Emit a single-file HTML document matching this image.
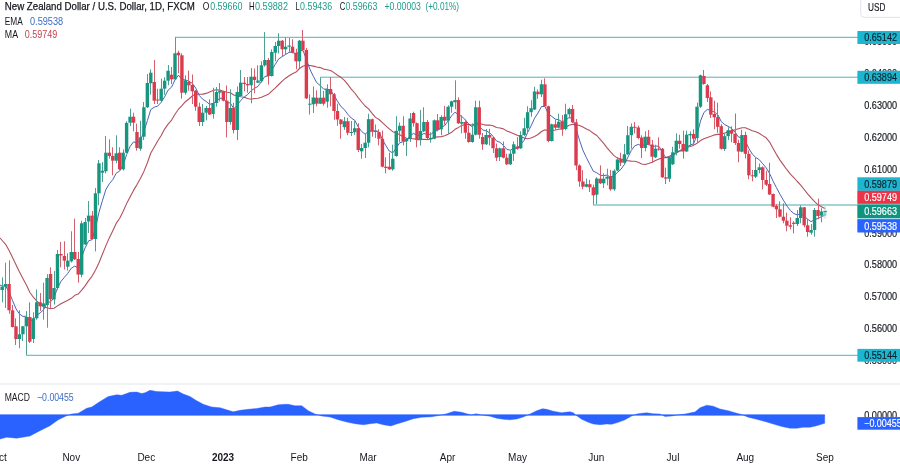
<!DOCTYPE html><html><head><meta charset="utf-8"><title>NZDUSD</title>
<style>html,body{margin:0;padding:0;background:#fff;}body{width:900px;height:465px;overflow:hidden;}svg{display:block;will-change:transform;font-family:"Liberation Sans",sans-serif;}</style>
</head><body>
<svg width="900" height="465" viewBox="0 0 900 465">
<rect x="0" y="0" width="900" height="465" fill="#ffffff"/>
<rect x="0" y="383.5" width="900" height="1" fill="#e4e6ea"/>
<line x1="175" y1="37.3" x2="858" y2="37.3" stroke="#5ab0b5" stroke-width="1.0"/>
<line x1="320.2" y1="77.2" x2="858" y2="77.2" stroke="#5ab0b5" stroke-width="1.0"/>
<rect x="593.3" y="204" width="264.5" height="2" fill="#a6d3d5"/>
<line x1="26.4" y1="355.3" x2="858" y2="355.3" stroke="#5ab0b5" stroke-width="1.0"/>
<path d="M0.0,238.0 L2.2,240.5 L5.6,244.3 L9.1,250.4 L12.5,257.4 L16.0,264.8 L19.4,271.8 L22.9,278.6 L26.4,285.1 L29.8,292.2 L33.3,297.2 L36.7,300.8 L40.2,304.1 L43.6,306.9 L47.1,307.7 L50.6,308.7 L54.0,308.2 L57.5,305.9 L60.9,303.8 L64.4,302.0 L67.8,300.3 L71.3,298.3 L74.8,295.3 L78.2,294.1 L81.7,290.2 L85.1,285.9 L88.6,280.6 L92.0,276.3 L95.5,270.0 L99.0,262.7 L102.4,254.3 L105.9,245.6 L109.3,237.9 L112.8,230.7 L116.2,223.4 L119.7,218.2 L123.2,211.3 L126.6,203.6 L130.1,197.0 L133.5,190.4 L137.0,184.6 L140.4,178.5 L143.9,171.4 L147.4,162.8 L150.8,153.0 L154.3,146.9 L157.7,141.0 L161.2,135.5 L164.6,129.1 L168.1,124.1 L171.6,120.1 L175.0,114.2 L178.5,109.2 L181.9,105.7 L185.4,101.7 L188.8,99.0 L192.3,96.0 L195.8,94.1 L199.2,94.2 L202.7,94.1 L206.1,93.4 L209.6,91.9 L213.0,90.4 L216.5,89.8 L220.0,90.0 L223.4,91.2 L226.9,92.3 L230.3,92.8 L233.8,95.0 L237.2,95.9 L240.7,96.8 L244.1,97.2 L247.6,98.5 L251.1,99.3 L254.5,98.5 L258.0,98.3 L261.4,97.3 L264.9,95.8 L268.3,94.3 L271.8,91.1 L275.3,87.9 L278.7,84.5 L282.2,81.2 L285.6,78.2 L289.1,75.8 L292.5,73.8 L296.0,72.1 L299.5,68.5 L302.9,66.2 L306.4,65.0 L309.8,65.5 L313.3,66.1 L316.7,67.0 L320.2,67.6 L323.7,69.1 L327.1,69.7 L330.6,70.5 L334.0,72.6 L337.5,75.2 L340.9,77.3 L344.4,80.4 L347.9,84.6 L351.3,89.1 L354.8,93.0 L358.2,97.6 L361.7,102.0 L365.1,106.0 L368.6,108.9 L372.1,113.4 L375.5,117.4 L379.0,119.5 L382.4,122.6 L385.9,125.9 L389.3,128.8 L392.8,131.7 L396.3,133.0 L399.7,134.7 L403.2,136.8 L406.6,138.3 L410.1,138.5 L413.5,138.7 L417.0,139.6 L420.5,139.6 L423.9,139.2 L427.4,139.6 L430.8,138.9 L434.3,137.5 L437.7,136.9 L441.2,136.6 L444.7,135.7 L448.1,134.2 L451.6,132.3 L455.0,129.3 L458.5,127.4 L461.9,125.4 L465.4,124.2 L468.9,124.6 L472.3,125.0 L475.8,123.4 L479.2,123.2 L482.7,124.5 L486.1,125.1 L489.6,125.0 L493.1,125.8 L496.5,127.5 L500.0,128.0 L503.4,128.9 L506.9,131.0 L510.3,132.2 L513.8,133.7 L517.3,135.2 L520.7,136.7 L524.2,138.1 L527.6,138.7 L531.1,138.0 L534.5,136.5 L538.0,134.5 L541.5,131.5 L544.9,129.7 L548.4,131.1 L551.8,130.7 L555.3,130.0 L558.7,129.2 L562.2,128.7 L565.7,127.3 L569.1,125.3 L572.6,124.3 L576.0,124.7 L579.5,125.5 L582.9,127.1 L586.4,128.9 L589.8,130.6 L593.3,133.2 L596.8,135.5 L600.2,139.3 L603.7,143.4 L607.1,147.8 L610.6,151.9 L614.0,155.6 L617.5,158.1 L621.0,159.3 L624.4,160.6 L627.9,160.8 L631.3,161.1 L634.8,161.2 L638.2,162.3 L641.7,164.0 L645.2,164.5 L648.6,163.5 L652.1,162.3 L655.5,160.5 L659.0,158.9 L662.4,158.3 L665.9,157.4 L669.4,156.2 L672.8,154.6 L676.3,152.6 L679.7,150.8 L683.2,148.9 L686.6,147.5 L690.1,146.5 L693.6,145.4 L697.0,143.2 L700.5,140.6 L703.9,138.8 L707.4,137.4 L710.8,136.3 L714.3,134.9 L717.8,134.4 L721.2,134.4 L724.7,133.1 L728.1,131.9 L731.6,131.1 L735.0,129.7 L738.5,128.7 L742.0,127.8 L745.4,127.8 L748.9,129.3 L752.3,130.8 L755.8,131.7 L759.2,133.3 L762.7,135.6 L766.2,137.8 L769.6,142.1 L773.1,148.5 L776.5,154.6 L780.0,160.1 L783.4,164.9 L786.9,169.7 L790.4,174.2 L793.8,177.6 L797.3,181.5 L800.7,185.1 L804.2,189.5 L807.6,193.9 L811.1,197.9 L814.6,201.7 L818.0,204.8 L821.5,206.7 L824.9,208.6" fill="none" stroke="#b4505c" stroke-width="1.1" stroke-linejoin="round" stroke-linecap="round"/>
<path d="M0.0,285.0 L2.2,286.1 L5.6,286.0 L9.1,292.0 L12.5,300.4 L16.0,308.8 L19.4,313.9 L22.9,316.4 L26.4,316.2 L29.8,320.8 L33.3,319.5 L36.7,315.5 L40.2,312.8 L43.6,309.8 L47.1,302.7 L50.6,301.7 L54.0,297.8 L57.5,288.0 L60.9,281.5 L64.4,277.3 L67.8,273.3 L71.3,268.2 L74.8,266.1 L78.2,268.0 L81.7,257.0 L85.1,247.9 L88.6,240.8 L92.0,239.7 L95.5,227.9 L99.0,212.2 L102.4,200.7 L105.9,189.5 L109.3,183.8 L112.8,179.6 L116.2,173.2 L119.7,171.0 L123.2,165.2 L126.6,154.6 L130.1,146.4 L133.5,141.9 L137.0,143.0 L140.4,140.1 L143.9,131.6 L147.4,120.6 L150.8,109.5 L154.3,107.2 L157.7,106.1 L161.2,102.3 L164.6,96.9 L168.1,90.1 L171.6,87.1 L175.0,79.8 L178.5,75.1 L181.9,79.5 L185.4,79.9 L188.8,81.2 L192.3,83.3 L195.8,88.2 L199.2,95.4 L202.7,99.2 L206.1,101.4 L209.6,104.3 L213.0,103.6 L216.5,100.6 L220.0,98.3 L223.4,98.3 L226.9,102.6 L230.3,103.0 L233.8,108.7 L237.2,105.2 L240.7,100.5 L244.1,97.1 L247.6,94.6 L251.1,90.7 L254.5,88.3 L258.0,86.4 L261.4,81.5 L264.9,76.4 L268.3,75.9 L271.8,70.0 L275.3,64.3 L278.7,58.9 L282.2,56.7 L285.6,54.5 L289.1,52.3 L292.5,52.2 L296.0,54.3 L299.5,51.4 L302.9,50.2 L306.4,59.3 L309.8,69.0 L313.3,76.3 L316.7,82.6 L320.2,85.5 L323.7,89.2 L327.1,89.0 L330.6,90.3 L334.0,95.4 L337.5,101.2 L340.9,106.5 L344.4,109.6 L347.9,114.4 L351.3,118.1 L354.8,120.3 L358.2,126.9 L361.7,131.5 L365.1,134.2 L368.6,131.1 L372.1,131.1 L375.5,130.6 L379.0,131.9 L382.4,139.4 L385.9,145.7 L389.3,151.1 L392.8,152.9 L396.3,148.0 L399.7,142.7 L403.2,141.7 L406.6,140.5 L410.1,135.8 L413.5,133.4 L417.0,135.3 L420.5,135.5 L423.9,133.5 L427.4,134.5 L430.8,134.7 L434.3,131.1 L437.7,130.5 L441.2,127.2 L444.7,125.6 L448.1,120.9 L451.6,115.8 L455.0,112.2 L458.5,114.8 L461.9,116.5 L465.4,119.9 L468.9,124.3 L472.3,126.9 L475.8,123.5 L479.2,126.2 L482.7,129.9 L486.1,130.9 L489.6,132.7 L493.1,136.4 L496.5,141.0 L500.0,142.3 L503.4,145.4 L506.9,149.4 L510.3,150.2 L513.8,148.3 L517.3,147.9 L520.7,144.6 L524.2,140.2 L527.6,132.5 L531.1,125.9 L534.5,118.3 L538.0,113.0 L541.5,106.5 L544.9,106.4 L548.4,113.9 L551.8,116.4 L555.3,119.2 L558.7,119.7 L562.2,121.8 L565.7,120.0 L569.1,117.5 L572.6,118.4 L576.0,128.7 L579.5,140.2 L582.9,150.2 L586.4,157.6 L589.8,164.4 L593.3,171.2 L596.8,172.8 L600.2,175.2 L603.7,175.7 L607.1,175.0 L610.6,177.3 L614.0,176.0 L617.5,172.4 L621.0,169.2 L624.4,164.5 L627.9,157.2 L631.3,150.5 L634.8,145.8 L638.2,144.4 L641.7,145.9 L645.2,144.4 L648.6,144.3 L652.1,146.4 L655.5,146.1 L659.0,146.2 L662.4,152.6 L665.9,157.8 L669.4,157.1 L672.8,156.2 L676.3,153.2 L679.7,151.0 L683.2,150.8 L686.6,147.5 L690.1,145.0 L693.6,143.8 L697.0,135.0 L700.5,121.0 L703.9,112.5 L707.4,109.4 L710.8,110.6 L714.3,112.0 L717.8,114.7 L721.2,121.5 L724.7,124.6 L728.1,126.3 L731.6,128.5 L735.0,132.1 L738.5,137.1 L742.0,137.4 L745.4,141.3 L748.9,148.5 L752.3,154.1 L755.8,157.5 L759.2,159.6 L762.7,163.7 L766.2,167.8 L769.6,173.5 L773.1,181.2 L776.5,187.8 L780.0,194.3 L783.4,200.2 L786.9,205.9 L790.4,210.5 L793.8,213.5 L797.3,214.9 L800.7,213.6 L804.2,216.0 L807.6,219.2 L811.1,221.7 L814.6,219.4 L818.0,218.5 L821.5,216.6 L824.9,215.3" fill="none" stroke="#3f5bb5" stroke-width="0.95" stroke-linejoin="round" stroke-linecap="round"/>
<g opacity="1"><rect x="2" y="277.3" width="1" height="25.0" fill="#4f9f95"/><rect x="0.46" y="286.7" width="3.4" height="3.3" fill="#16957f"/></g>
<g opacity="1"><rect x="5" y="262.7" width="1" height="45.3" fill="#4f9f95"/><rect x="3.92" y="284.0" width="3.4" height="2.7" fill="#16957f"/></g>
<g opacity="1"><rect x="9" y="260.4" width="1" height="53.3" fill="#d45f6e"/><rect x="7.37" y="284.0" width="3.4" height="26.3" fill="#dc3a4d"/></g>
<g opacity="1"><rect x="12" y="305.0" width="1" height="22.5" fill="#d45f6e"/><rect x="10.83" y="310.3" width="3.4" height="16.7" fill="#dc3a4d"/></g>
<g opacity="1"><rect x="15" y="318.3" width="1" height="26.7" fill="#d45f6e"/><rect x="14.29" y="326.3" width="3.4" height="12.7" fill="#dc3a4d"/></g>
<g opacity="1"><rect x="19" y="310.3" width="1" height="38.0" fill="#4f9f95"/><rect x="17.75" y="334.3" width="3.4" height="4.7" fill="#16957f"/></g>
<g opacity="1"><rect x="22" y="326.0" width="1" height="15.0" fill="#4f9f95"/><rect x="21.20" y="326.3" width="3.4" height="8.0" fill="#16957f"/></g>
<g opacity="1"><rect x="26" y="311.0" width="1" height="44.3" fill="#4f9f95"/><rect x="24.66" y="317.0" width="3.4" height="9.3" fill="#16957f"/></g>
<g opacity="1"><rect x="29" y="302.3" width="1" height="40.7" fill="#d45f6e"/><rect x="28.12" y="317.0" width="3.4" height="24.7" fill="#dc3a4d"/></g>
<g opacity="1"><rect x="33" y="312.3" width="1" height="30.7" fill="#4f9f95"/><rect x="31.57" y="318.3" width="3.4" height="20.7" fill="#16957f"/></g>
<g opacity="1"><rect x="36" y="289.5" width="1" height="30.2" fill="#4f9f95"/><rect x="35.03" y="302.3" width="3.4" height="16.0" fill="#16957f"/></g>
<g opacity="1"><rect x="40" y="293.0" width="1" height="18.0" fill="#d45f6e"/><rect x="38.49" y="302.3" width="3.4" height="4.0" fill="#dc3a4d"/></g>
<g opacity="1"><rect x="43" y="282.7" width="1" height="37.0" fill="#4f9f95"/><rect x="41.94" y="303.4" width="3.4" height="3.1" fill="#16957f"/></g>
<g opacity="1"><rect x="47" y="274.2" width="1" height="53.5" fill="#4f9f95"/><rect x="45.40" y="278.0" width="3.4" height="27.0" fill="#16957f"/></g>
<g opacity="1"><rect x="50" y="267.3" width="1" height="41.4" fill="#d45f6e"/><rect x="48.86" y="274.0" width="3.4" height="25.3" fill="#dc3a4d"/></g>
<g opacity="1"><rect x="54" y="271.0" width="1" height="33.5" fill="#4f9f95"/><rect x="52.31" y="288.0" width="3.4" height="11.5" fill="#16957f"/></g>
<g opacity="1"><rect x="57" y="250.0" width="1" height="40.0" fill="#4f9f95"/><rect x="55.77" y="254.0" width="3.4" height="34.0" fill="#16957f"/></g>
<g opacity="1"><rect x="60" y="242.0" width="1" height="25.3" fill="#d45f6e"/><rect x="59.23" y="254.0" width="3.4" height="1.5" fill="#dc3a4d"/></g>
<g opacity="1"><rect x="64" y="241.3" width="1" height="28.2" fill="#d45f6e"/><rect x="62.69" y="256.0" width="3.4" height="4.7" fill="#dc3a4d"/></g>
<g opacity="1"><rect x="67" y="253.3" width="1" height="17.3" fill="#4f9f95"/><rect x="66.14" y="260.7" width="3.4" height="6.0" fill="#16957f"/></g>
<g opacity="1"><rect x="71" y="231.3" width="1" height="31.2" fill="#4f9f95"/><rect x="69.60" y="252.0" width="3.4" height="9.3" fill="#16957f"/></g>
<g opacity="1"><rect x="74" y="218.7" width="1" height="41.3" fill="#d45f6e"/><rect x="73.06" y="252.0" width="3.4" height="7.3" fill="#dc3a4d"/></g>
<g opacity="1"><rect x="78" y="252.0" width="1" height="30.7" fill="#d45f6e"/><rect x="76.51" y="259.0" width="3.4" height="15.6" fill="#dc3a4d"/></g>
<g opacity="1"><rect x="81" y="220.7" width="1" height="56.7" fill="#4f9f95"/><rect x="79.97" y="223.3" width="3.4" height="51.4" fill="#16957f"/></g>
<g opacity="1"><rect x="85" y="218.0" width="1" height="27.0" fill="#4f9f95"/><rect x="83.43" y="222.0" width="3.4" height="22.4" fill="#16957f"/></g>
<g opacity="1"><rect x="88" y="201.0" width="1" height="32.0" fill="#4f9f95"/><rect x="86.88" y="215.6" width="3.4" height="5.9" fill="#16957f"/></g>
<g opacity="1"><rect x="92" y="211.0" width="1" height="28.5" fill="#d45f6e"/><rect x="90.34" y="215.6" width="3.4" height="23.4" fill="#dc3a4d"/></g>
<g opacity="1"><rect x="95" y="188.0" width="1" height="63.4" fill="#4f9f95"/><rect x="93.80" y="193.3" width="3.4" height="45.7" fill="#16957f"/></g>
<g opacity="1"><rect x="98" y="160.0" width="1" height="45.3" fill="#4f9f95"/><rect x="97.26" y="163.3" width="3.4" height="30.0" fill="#16957f"/></g>
<g opacity="1"><rect x="102" y="162.0" width="1" height="20.0" fill="#4f9f95"/><rect x="100.71" y="170.7" width="3.4" height="2.0" fill="#16957f"/></g>
<g opacity="1"><rect x="105" y="136.0" width="1" height="37.3" fill="#4f9f95"/><rect x="104.17" y="152.7" width="3.4" height="18.6" fill="#16957f"/></g>
<g opacity="1"><rect x="109" y="139.3" width="1" height="19.4" fill="#d45f6e"/><rect x="107.63" y="152.7" width="3.4" height="3.3" fill="#dc3a4d"/></g>
<g opacity="1"><rect x="112" y="147.3" width="1" height="28.0" fill="#d45f6e"/><rect x="111.08" y="156.0" width="3.4" height="4.7" fill="#dc3a4d"/></g>
<g opacity="1"><rect x="116" y="135.3" width="1" height="28.0" fill="#4f9f95"/><rect x="114.54" y="153.3" width="3.4" height="7.4" fill="#16957f"/></g>
<g opacity="1"><rect x="119" y="147.3" width="1" height="22.7" fill="#d45f6e"/><rect x="118.00" y="152.7" width="3.4" height="16.6" fill="#dc3a4d"/></g>
<g opacity="1"><rect x="123" y="149.3" width="1" height="21.2" fill="#4f9f95"/><rect x="121.45" y="152.7" width="3.4" height="16.6" fill="#16957f"/></g>
<g opacity="1"><rect x="126" y="121.3" width="1" height="31.7" fill="#4f9f95"/><rect x="124.91" y="122.9" width="3.4" height="29.8" fill="#16957f"/></g>
<g opacity="1"><rect x="130" y="108.7" width="1" height="17.3" fill="#4f9f95"/><rect x="128.37" y="116.7" width="3.4" height="6.0" fill="#16957f"/></g>
<g opacity="1"><rect x="133" y="112.7" width="1" height="18.6" fill="#d45f6e"/><rect x="131.83" y="116.7" width="3.4" height="6.0" fill="#dc3a4d"/></g>
<g opacity="1"><rect x="136" y="123.6" width="1" height="27.1" fill="#d45f6e"/><rect x="135.28" y="132.0" width="3.4" height="16.0" fill="#dc3a4d"/></g>
<g opacity="1"><rect x="140" y="120.7" width="1" height="30.0" fill="#4f9f95"/><rect x="138.74" y="137.3" width="3.4" height="11.4" fill="#16957f"/></g>
<g opacity="1"><rect x="143" y="102.0" width="1" height="38.0" fill="#4f9f95"/><rect x="142.20" y="107.3" width="3.4" height="29.4" fill="#16957f"/></g>
<g opacity="1"><rect x="147" y="74.0" width="1" height="34.0" fill="#4f9f95"/><rect x="145.65" y="83.0" width="3.4" height="24.3" fill="#16957f"/></g>
<g opacity="1"><rect x="150" y="69.3" width="1" height="25.4" fill="#4f9f95"/><rect x="149.11" y="72.7" width="3.4" height="10.6" fill="#16957f"/></g>
<g opacity="1"><rect x="154" y="60.0" width="1" height="44.0" fill="#d45f6e"/><rect x="152.57" y="82.0" width="3.4" height="18.7" fill="#dc3a4d"/></g>
<g opacity="1"><rect x="157" y="88.7" width="1" height="15.3" fill="#d45f6e"/><rect x="156.03" y="99.5" width="3.4" height="1.0" fill="#dc3a4d"/></g>
<g opacity="1"><rect x="161" y="78.7" width="1" height="22.6" fill="#4f9f95"/><rect x="159.48" y="88.7" width="3.4" height="12.0" fill="#16957f"/></g>
<g opacity="1"><rect x="164" y="77.3" width="1" height="17.4" fill="#4f9f95"/><rect x="162.94" y="80.7" width="3.4" height="8.0" fill="#16957f"/></g>
<g opacity="1"><rect x="168" y="65.0" width="1" height="20.3" fill="#4f9f95"/><rect x="166.40" y="70.7" width="3.4" height="10.0" fill="#16957f"/></g>
<g opacity="1"><rect x="171" y="67.0" width="1" height="17.0" fill="#d45f6e"/><rect x="169.85" y="74.7" width="3.4" height="4.6" fill="#dc3a4d"/></g>
<g opacity="1"><rect x="175" y="37.3" width="1" height="42.7" fill="#4f9f95"/><rect x="173.31" y="53.3" width="3.4" height="26.0" fill="#16957f"/></g>
<g opacity="1"><rect x="178" y="50.7" width="1" height="22.6" fill="#d45f6e"/><rect x="176.77" y="52.7" width="3.4" height="2.6" fill="#dc3a4d"/></g>
<g opacity="1"><rect x="181" y="53.3" width="1" height="45.4" fill="#d45f6e"/><rect x="180.22" y="55.3" width="3.4" height="37.4" fill="#dc3a4d"/></g>
<g opacity="1"><rect x="185" y="75.3" width="1" height="19.4" fill="#4f9f95"/><rect x="183.68" y="80.3" width="3.4" height="12.4" fill="#16957f"/></g>
<g opacity="1"><rect x="188" y="70.7" width="1" height="20.0" fill="#d45f6e"/><rect x="187.14" y="82.0" width="3.4" height="3.3" fill="#dc3a4d"/></g>
<g opacity="1"><rect x="192" y="74.5" width="1" height="29.5" fill="#d45f6e"/><rect x="190.59" y="85.0" width="3.4" height="6.3" fill="#dc3a4d"/></g>
<g opacity="1"><rect x="195" y="90.0" width="1" height="20.7" fill="#d45f6e"/><rect x="194.05" y="90.7" width="3.4" height="16.0" fill="#dc3a4d"/></g>
<g opacity="1"><rect x="199" y="102.7" width="1" height="23.3" fill="#d45f6e"/><rect x="197.51" y="106.7" width="3.4" height="15.3" fill="#dc3a4d"/></g>
<g opacity="1"><rect x="202" y="104.0" width="1" height="22.0" fill="#4f9f95"/><rect x="200.97" y="112.7" width="3.4" height="9.3" fill="#16957f"/></g>
<g opacity="1"><rect x="206" y="106.0" width="1" height="14.4" fill="#4f9f95"/><rect x="204.42" y="108.0" width="3.4" height="4.7" fill="#16957f"/></g>
<g opacity="1"><rect x="209" y="99.3" width="1" height="15.7" fill="#d45f6e"/><rect x="207.88" y="108.0" width="3.4" height="6.5" fill="#dc3a4d"/></g>
<g opacity="1"><rect x="213" y="87.7" width="1" height="31.0" fill="#4f9f95"/><rect x="211.34" y="103.0" width="3.4" height="11.0" fill="#16957f"/></g>
<g opacity="1"><rect x="216" y="87.0" width="1" height="19.7" fill="#4f9f95"/><rect x="214.79" y="92.0" width="3.4" height="11.0" fill="#16957f"/></g>
<g opacity="1"><rect x="219" y="83.0" width="1" height="18.3" fill="#4f9f95"/><rect x="218.25" y="90.7" width="3.4" height="2.0" fill="#16957f"/></g>
<g opacity="1"><rect x="223" y="90.7" width="1" height="10.6" fill="#d45f6e"/><rect x="221.71" y="91.3" width="3.4" height="9.4" fill="#dc3a4d"/></g>
<g opacity="1"><rect x="226" y="85.5" width="1" height="51.8" fill="#d45f6e"/><rect x="225.17" y="100.7" width="3.4" height="21.3" fill="#dc3a4d"/></g>
<g opacity="1"><rect x="230" y="89.3" width="1" height="35.4" fill="#4f9f95"/><rect x="228.62" y="108.0" width="3.4" height="14.0" fill="#16957f"/></g>
<g opacity="1"><rect x="233" y="102.7" width="1" height="30.6" fill="#d45f6e"/><rect x="232.08" y="108.0" width="3.4" height="22.0" fill="#dc3a4d"/></g>
<g opacity="1"><rect x="237" y="86.5" width="1" height="53.5" fill="#4f9f95"/><rect x="235.54" y="92.0" width="3.4" height="38.0" fill="#16957f"/></g>
<g opacity="1"><rect x="240" y="70.0" width="1" height="27.0" fill="#4f9f95"/><rect x="238.99" y="82.7" width="3.4" height="13.3" fill="#16957f"/></g>
<g opacity="1"><rect x="244" y="77.0" width="1" height="14.3" fill="#d45f6e"/><rect x="242.45" y="82.7" width="3.4" height="1.3" fill="#dc3a4d"/></g>
<g opacity="1"><rect x="247" y="77.0" width="1" height="15.7" fill="#d45f6e"/><rect x="245.91" y="84.0" width="3.4" height="1.3" fill="#dc3a4d"/></g>
<g opacity="1"><rect x="251" y="68.0" width="1" height="35.3" fill="#4f9f95"/><rect x="249.36" y="76.7" width="3.4" height="8.6" fill="#16957f"/></g>
<g opacity="1"><rect x="254" y="68.5" width="1" height="24.8" fill="#d45f6e"/><rect x="252.82" y="76.7" width="3.4" height="3.3" fill="#dc3a4d"/></g>
<g opacity="1"><rect x="257" y="65.3" width="1" height="17.7" fill="#4f9f95"/><rect x="256.28" y="80.5" width="3.4" height="2.2" fill="#16957f"/></g>
<g opacity="1"><rect x="261" y="61.3" width="1" height="21.4" fill="#4f9f95"/><rect x="259.74" y="65.3" width="3.4" height="16.0" fill="#16957f"/></g>
<g opacity="1"><rect x="264" y="32.0" width="1" height="34.7" fill="#4f9f95"/><rect x="263.19" y="60.0" width="3.4" height="5.3" fill="#16957f"/></g>
<g opacity="1"><rect x="268" y="58.0" width="1" height="26.7" fill="#d45f6e"/><rect x="266.65" y="60.0" width="3.4" height="16.0" fill="#dc3a4d"/></g>
<g opacity="1"><rect x="271" y="49.3" width="1" height="27.2" fill="#4f9f95"/><rect x="270.11" y="52.0" width="3.4" height="24.0" fill="#16957f"/></g>
<g opacity="1"><rect x="275" y="42.0" width="1" height="19.3" fill="#4f9f95"/><rect x="273.56" y="46.0" width="3.4" height="6.7" fill="#16957f"/></g>
<g opacity="1"><rect x="278" y="33.3" width="1" height="20.0" fill="#4f9f95"/><rect x="277.02" y="40.7" width="3.4" height="5.3" fill="#16957f"/></g>
<g opacity="1"><rect x="282" y="40.0" width="1" height="16.0" fill="#d45f6e"/><rect x="280.48" y="40.7" width="3.4" height="8.6" fill="#dc3a4d"/></g>
<g opacity="1"><rect x="285" y="37.3" width="1" height="17.4" fill="#4f9f95"/><rect x="283.93" y="46.7" width="3.4" height="2.6" fill="#16957f"/></g>
<g opacity="1"><rect x="289" y="38.0" width="1" height="14.7" fill="#4f9f95"/><rect x="287.39" y="45.5" width="3.4" height="1.2" fill="#16957f"/></g>
<g opacity="1"><rect x="292" y="39.3" width="1" height="14.0" fill="#d45f6e"/><rect x="290.85" y="46.7" width="3.4" height="6.0" fill="#dc3a4d"/></g>
<g opacity="1"><rect x="296" y="48.7" width="1" height="20.6" fill="#d45f6e"/><rect x="294.31" y="52.7" width="3.4" height="8.6" fill="#dc3a4d"/></g>
<g opacity="1"><rect x="299" y="40.0" width="1" height="28.0" fill="#4f9f95"/><rect x="297.76" y="40.7" width="3.4" height="20.6" fill="#16957f"/></g>
<g opacity="1"><rect x="302" y="30.0" width="1" height="21.3" fill="#d45f6e"/><rect x="301.22" y="40.7" width="3.4" height="9.3" fill="#dc3a4d"/></g>
<g opacity="1"><rect x="306" y="48.0" width="1" height="51.0" fill="#d45f6e"/><rect x="304.68" y="50.0" width="3.4" height="48.4" fill="#dc3a4d"/></g>
<g opacity="1"><rect x="309" y="94.3" width="1" height="20.2" fill="#4f9f95"/><rect x="308.13" y="103.7" width="3.4" height="1.0" fill="#16957f"/></g>
<g opacity="1"><rect x="313" y="86.5" width="1" height="26.5" fill="#4f9f95"/><rect x="311.59" y="97.5" width="3.4" height="6.8" fill="#16957f"/></g>
<g opacity="1"><rect x="316" y="90.3" width="1" height="16.0" fill="#d45f6e"/><rect x="315.05" y="97.7" width="3.4" height="6.0" fill="#dc3a4d"/></g>
<g opacity="1"><rect x="320" y="77.4" width="1" height="26.6" fill="#4f9f95"/><rect x="318.50" y="97.7" width="3.4" height="6.0" fill="#16957f"/></g>
<g opacity="1"><rect x="323" y="91.0" width="1" height="14.7" fill="#d45f6e"/><rect x="321.96" y="97.7" width="3.4" height="6.0" fill="#dc3a4d"/></g>
<g opacity="1"><rect x="327" y="84.3" width="1" height="23.4" fill="#4f9f95"/><rect x="325.42" y="89.0" width="3.4" height="12.7" fill="#16957f"/></g>
<g opacity="1"><rect x="330" y="77.0" width="1" height="29.3" fill="#d45f6e"/><rect x="328.88" y="89.0" width="3.4" height="5.3" fill="#dc3a4d"/></g>
<g opacity="1"><rect x="334" y="93.0" width="1" height="26.7" fill="#d45f6e"/><rect x="332.33" y="94.3" width="3.4" height="16.7" fill="#dc3a4d"/></g>
<g opacity="1"><rect x="337" y="103.7" width="1" height="22.1" fill="#d45f6e"/><rect x="335.79" y="111.0" width="3.4" height="8.5" fill="#dc3a4d"/></g>
<g opacity="1"><rect x="340" y="119.0" width="1" height="19.7" fill="#d45f6e"/><rect x="339.25" y="119.5" width="3.4" height="4.7" fill="#dc3a4d"/></g>
<g opacity="1"><rect x="344" y="117.0" width="1" height="12.8" fill="#4f9f95"/><rect x="342.70" y="121.2" width="3.4" height="6.0" fill="#16957f"/></g>
<g opacity="1"><rect x="347" y="117.7" width="1" height="17.5" fill="#d45f6e"/><rect x="346.16" y="121.2" width="3.4" height="11.6" fill="#dc3a4d"/></g>
<g opacity="1"><rect x="351" y="121.0" width="1" height="15.0" fill="#4f9f95"/><rect x="349.62" y="132.0" width="3.4" height="1.0" fill="#16957f"/></g>
<g opacity="1"><rect x="354" y="121.0" width="1" height="13.8" fill="#4f9f95"/><rect x="353.07" y="128.2" width="3.4" height="4.0" fill="#16957f"/></g>
<g opacity="1"><rect x="358" y="123.2" width="1" height="28.8" fill="#d45f6e"/><rect x="356.53" y="128.2" width="3.4" height="21.8" fill="#dc3a4d"/></g>
<g opacity="1"><rect x="361" y="144.0" width="1" height="14.7" fill="#4f9f95"/><rect x="359.99" y="148.0" width="3.4" height="3.3" fill="#16957f"/></g>
<g opacity="1"><rect x="365" y="134.0" width="1" height="24.0" fill="#4f9f95"/><rect x="363.44" y="142.7" width="3.4" height="5.3" fill="#16957f"/></g>
<g opacity="1"><rect x="368" y="113.7" width="1" height="33.6" fill="#4f9f95"/><rect x="366.90" y="119.2" width="3.4" height="23.5" fill="#16957f"/></g>
<g opacity="1"><rect x="372" y="118.5" width="1" height="18.2" fill="#d45f6e"/><rect x="370.36" y="119.2" width="3.4" height="12.3" fill="#dc3a4d"/></g>
<g opacity="1"><rect x="375" y="124.5" width="1" height="13.5" fill="#4f9f95"/><rect x="373.82" y="131.0" width="3.4" height="1.0" fill="#16957f"/></g>
<g opacity="1"><rect x="378" y="129.2" width="1" height="16.1" fill="#d45f6e"/><rect x="377.27" y="132.2" width="3.4" height="6.5" fill="#dc3a4d"/></g>
<g opacity="1"><rect x="382" y="130.5" width="1" height="36.8" fill="#d45f6e"/><rect x="380.73" y="138.7" width="3.4" height="28.0" fill="#dc3a4d"/></g>
<g opacity="1"><rect x="385" y="157.3" width="1" height="16.0" fill="#d45f6e"/><rect x="384.19" y="166.7" width="3.4" height="1.3" fill="#dc3a4d"/></g>
<g opacity="1"><rect x="389" y="152.7" width="1" height="17.3" fill="#d45f6e"/><rect x="387.64" y="166.7" width="3.4" height="2.6" fill="#dc3a4d"/></g>
<g opacity="1"><rect x="392" y="144.7" width="1" height="26.0" fill="#4f9f95"/><rect x="391.10" y="158.7" width="3.4" height="10.6" fill="#16957f"/></g>
<g opacity="1"><rect x="396" y="116.3" width="1" height="40.4" fill="#4f9f95"/><rect x="394.56" y="130.8" width="3.4" height="25.2" fill="#16957f"/></g>
<g opacity="1"><rect x="399" y="122.5" width="1" height="19.5" fill="#4f9f95"/><rect x="398.01" y="125.8" width="3.4" height="5.0" fill="#16957f"/></g>
<g opacity="1"><rect x="403" y="116.3" width="1" height="29.0" fill="#d45f6e"/><rect x="401.47" y="125.8" width="3.4" height="15.5" fill="#dc3a4d"/></g>
<g opacity="1"><rect x="406" y="138.0" width="1" height="18.0" fill="#4f9f95"/><rect x="404.93" y="138.7" width="3.4" height="2.6" fill="#16957f"/></g>
<g opacity="1"><rect x="410" y="113.0" width="1" height="29.0" fill="#4f9f95"/><rect x="408.39" y="118.5" width="3.4" height="20.2" fill="#16957f"/></g>
<g opacity="1"><rect x="413" y="111.7" width="1" height="15.0" fill="#d45f6e"/><rect x="411.84" y="113.0" width="3.4" height="10.2" fill="#dc3a4d"/></g>
<g opacity="1"><rect x="416" y="122.5" width="1" height="24.8" fill="#d45f6e"/><rect x="415.30" y="123.2" width="3.4" height="16.1" fill="#dc3a4d"/></g>
<g opacity="1"><rect x="420" y="110.0" width="1" height="35.5" fill="#4f9f95"/><rect x="418.76" y="131.0" width="3.4" height="8.8" fill="#16957f"/></g>
<g opacity="1"><rect x="423" y="107.3" width="1" height="24.7" fill="#4f9f95"/><rect x="422.21" y="122.0" width="3.4" height="9.3" fill="#16957f"/></g>
<g opacity="1"><rect x="427" y="120.0" width="1" height="19.3" fill="#d45f6e"/><rect x="425.67" y="122.0" width="3.4" height="16.0" fill="#dc3a4d"/></g>
<g opacity="1"><rect x="430" y="132.3" width="1" height="10.4" fill="#4f9f95"/><rect x="429.13" y="137.8" width="3.4" height="1.5" fill="#16957f"/></g>
<g opacity="1"><rect x="434" y="119.5" width="1" height="19.8" fill="#4f9f95"/><rect x="432.58" y="120.3" width="3.4" height="18.4" fill="#16957f"/></g>
<g opacity="1"><rect x="437" y="114.0" width="1" height="17.3" fill="#d45f6e"/><rect x="436.04" y="120.3" width="3.4" height="9.7" fill="#dc3a4d"/></g>
<g opacity="1"><rect x="441" y="115.3" width="1" height="19.7" fill="#4f9f95"/><rect x="439.50" y="117.0" width="3.4" height="12.3" fill="#16957f"/></g>
<g opacity="1"><rect x="444" y="106.0" width="1" height="18.7" fill="#d45f6e"/><rect x="442.96" y="116.7" width="3.4" height="4.0" fill="#dc3a4d"/></g>
<g opacity="1"><rect x="448" y="105.3" width="1" height="28.4" fill="#4f9f95"/><rect x="446.41" y="106.7" width="3.4" height="14.0" fill="#16957f"/></g>
<g opacity="1"><rect x="451" y="100.7" width="1" height="12.0" fill="#4f9f95"/><rect x="449.87" y="101.3" width="3.4" height="5.4" fill="#16957f"/></g>
<g opacity="1"><rect x="455" y="80.3" width="1" height="29.0" fill="#4f9f95"/><rect x="453.33" y="100.1" width="3.4" height="2.1" fill="#16957f"/></g>
<g opacity="1"><rect x="458" y="97.3" width="1" height="26.7" fill="#d45f6e"/><rect x="456.78" y="100.0" width="3.4" height="23.3" fill="#dc3a4d"/></g>
<g opacity="1"><rect x="461" y="115.3" width="1" height="18.0" fill="#4f9f95"/><rect x="460.24" y="122.0" width="3.4" height="1.7" fill="#16957f"/></g>
<g opacity="1"><rect x="465" y="119.3" width="1" height="19.4" fill="#d45f6e"/><rect x="463.70" y="122.0" width="3.4" height="10.7" fill="#dc3a4d"/></g>
<g opacity="1"><rect x="468" y="125.3" width="1" height="17.4" fill="#d45f6e"/><rect x="467.16" y="132.7" width="3.4" height="9.3" fill="#dc3a4d"/></g>
<g opacity="1"><rect x="472" y="123.3" width="1" height="19.4" fill="#4f9f95"/><rect x="470.61" y="134.7" width="3.4" height="7.3" fill="#16957f"/></g>
<g opacity="1"><rect x="475" y="100.7" width="1" height="34.6" fill="#4f9f95"/><rect x="474.07" y="107.3" width="3.4" height="27.4" fill="#16957f"/></g>
<g opacity="1"><rect x="479" y="100.7" width="1" height="38.0" fill="#d45f6e"/><rect x="477.53" y="107.3" width="3.4" height="27.4" fill="#dc3a4d"/></g>
<g opacity="1"><rect x="482" y="133.0" width="1" height="16.8" fill="#d45f6e"/><rect x="480.98" y="137.0" width="3.4" height="7.3" fill="#dc3a4d"/></g>
<g opacity="1"><rect x="486" y="129.0" width="1" height="16.0" fill="#4f9f95"/><rect x="484.44" y="135.0" width="3.4" height="9.3" fill="#16957f"/></g>
<g opacity="1"><rect x="489" y="128.8" width="1" height="16.7" fill="#d45f6e"/><rect x="487.90" y="135.0" width="3.4" height="2.6" fill="#dc3a4d"/></g>
<g opacity="1"><rect x="493" y="137.0" width="1" height="16.0" fill="#d45f6e"/><rect x="491.35" y="137.6" width="3.4" height="10.7" fill="#dc3a4d"/></g>
<g opacity="1"><rect x="496" y="143.5" width="1" height="17.5" fill="#d45f6e"/><rect x="494.81" y="148.3" width="3.4" height="9.4" fill="#dc3a4d"/></g>
<g opacity="1"><rect x="499" y="147.7" width="1" height="13.3" fill="#4f9f95"/><rect x="498.27" y="148.3" width="3.4" height="8.7" fill="#16957f"/></g>
<g opacity="1"><rect x="503" y="141.5" width="1" height="16.8" fill="#d45f6e"/><rect x="501.73" y="148.3" width="3.4" height="9.4" fill="#dc3a4d"/></g>
<g opacity="1"><rect x="506" y="153.7" width="1" height="11.3" fill="#d45f6e"/><rect x="505.18" y="157.7" width="3.4" height="6.6" fill="#dc3a4d"/></g>
<g opacity="1"><rect x="510" y="150.3" width="1" height="14.7" fill="#4f9f95"/><rect x="508.64" y="153.7" width="3.4" height="10.6" fill="#16957f"/></g>
<g opacity="1"><rect x="513" y="141.5" width="1" height="19.5" fill="#4f9f95"/><rect x="512.10" y="144.3" width="3.4" height="9.4" fill="#16957f"/></g>
<g opacity="1"><rect x="517" y="137.2" width="1" height="12.5" fill="#d45f6e"/><rect x="515.55" y="146.5" width="3.4" height="2.3" fill="#dc3a4d"/></g>
<g opacity="1"><rect x="520" y="131.2" width="1" height="17.8" fill="#4f9f95"/><rect x="519.01" y="135.0" width="3.4" height="13.3" fill="#16957f"/></g>
<g opacity="1"><rect x="524" y="117.8" width="1" height="18.4" fill="#4f9f95"/><rect x="522.47" y="128.3" width="3.4" height="6.7" fill="#16957f"/></g>
<g opacity="1"><rect x="527" y="106.2" width="1" height="26.3" fill="#4f9f95"/><rect x="525.92" y="112.2" width="3.4" height="16.1" fill="#16957f"/></g>
<g opacity="1"><rect x="531" y="100.2" width="1" height="16.6" fill="#4f9f95"/><rect x="529.38" y="108.2" width="3.4" height="4.0" fill="#16957f"/></g>
<g opacity="1"><rect x="534" y="86.8" width="1" height="23.2" fill="#4f9f95"/><rect x="532.84" y="91.5" width="3.4" height="18.0" fill="#16957f"/></g>
<g opacity="1"><rect x="537" y="89.5" width="1" height="9.3" fill="#d45f6e"/><rect x="536.29" y="91.7" width="3.4" height="2.5" fill="#dc3a4d"/></g>
<g opacity="1"><rect x="541" y="79.7" width="1" height="17.3" fill="#4f9f95"/><rect x="539.75" y="84.3" width="3.4" height="10.0" fill="#16957f"/></g>
<g opacity="1"><rect x="544" y="78.3" width="1" height="28.7" fill="#d45f6e"/><rect x="543.21" y="84.3" width="3.4" height="22.0" fill="#dc3a4d"/></g>
<g opacity="1"><rect x="548" y="105.7" width="1" height="36.6" fill="#d45f6e"/><rect x="546.67" y="106.3" width="3.4" height="34.7" fill="#dc3a4d"/></g>
<g opacity="1"><rect x="551" y="123.7" width="1" height="17.8" fill="#4f9f95"/><rect x="550.12" y="124.3" width="3.4" height="16.7" fill="#16957f"/></g>
<g opacity="1"><rect x="555" y="119.7" width="1" height="10.0" fill="#d45f6e"/><rect x="553.58" y="124.3" width="3.4" height="3.4" fill="#dc3a4d"/></g>
<g opacity="1"><rect x="558" y="113.7" width="1" height="14.6" fill="#4f9f95"/><rect x="557.04" y="121.7" width="3.4" height="6.0" fill="#16957f"/></g>
<g opacity="1"><rect x="562" y="115.0" width="1" height="20.7" fill="#d45f6e"/><rect x="560.49" y="121.7" width="3.4" height="7.8" fill="#dc3a4d"/></g>
<g opacity="1"><rect x="565" y="103.7" width="1" height="26.6" fill="#4f9f95"/><rect x="563.95" y="114.3" width="3.4" height="14.7" fill="#16957f"/></g>
<g opacity="1"><rect x="569" y="107.7" width="1" height="10.6" fill="#4f9f95"/><rect x="567.41" y="109.0" width="3.4" height="5.3" fill="#16957f"/></g>
<g opacity="1"><rect x="572" y="105.0" width="1" height="18.0" fill="#d45f6e"/><rect x="570.86" y="109.0" width="3.4" height="13.3" fill="#dc3a4d"/></g>
<g opacity="1"><rect x="576" y="119.0" width="1" height="51.2" fill="#d45f6e"/><rect x="574.32" y="122.3" width="3.4" height="43.2" fill="#dc3a4d"/></g>
<g opacity="1"><rect x="579" y="164.3" width="1" height="22.5" fill="#d45f6e"/><rect x="577.78" y="165.5" width="3.4" height="16.0" fill="#dc3a4d"/></g>
<g opacity="1"><rect x="582" y="170.2" width="1" height="19.1" fill="#d45f6e"/><rect x="581.24" y="181.5" width="3.4" height="5.2" fill="#dc3a4d"/></g>
<g opacity="1"><rect x="586" y="178.5" width="1" height="8.8" fill="#4f9f95"/><rect x="584.69" y="184.2" width="3.4" height="2.5" fill="#16957f"/></g>
<g opacity="1"><rect x="589" y="179.8" width="1" height="12.2" fill="#d45f6e"/><rect x="588.15" y="184.2" width="3.4" height="3.1" fill="#dc3a4d"/></g>
<g opacity="1"><rect x="593" y="184.7" width="1" height="20.0" fill="#d45f6e"/><rect x="591.61" y="187.3" width="3.4" height="8.0" fill="#dc3a4d"/></g>
<g opacity="1"><rect x="596" y="177.2" width="1" height="26.8" fill="#4f9f95"/><rect x="595.06" y="178.5" width="3.4" height="16.2" fill="#16957f"/></g>
<g opacity="1"><rect x="600" y="165.3" width="1" height="18.7" fill="#d45f6e"/><rect x="598.52" y="178.7" width="3.4" height="4.6" fill="#dc3a4d"/></g>
<g opacity="1"><rect x="603" y="173.3" width="1" height="14.7" fill="#4f9f95"/><rect x="601.98" y="178.7" width="3.4" height="4.6" fill="#16957f"/></g>
<g opacity="1"><rect x="607" y="168.7" width="1" height="16.6" fill="#4f9f95"/><rect x="605.43" y="176.7" width="3.4" height="2.0" fill="#16957f"/></g>
<g opacity="1"><rect x="610" y="170.0" width="1" height="20.7" fill="#d45f6e"/><rect x="608.89" y="176.0" width="3.4" height="13.3" fill="#dc3a4d"/></g>
<g opacity="1"><rect x="614" y="169.3" width="1" height="21.4" fill="#4f9f95"/><rect x="612.35" y="170.7" width="3.4" height="18.6" fill="#16957f"/></g>
<g opacity="1"><rect x="617" y="157.0" width="1" height="14.3" fill="#4f9f95"/><rect x="615.81" y="159.5" width="3.4" height="11.0" fill="#16957f"/></g>
<g opacity="1"><rect x="620" y="152.7" width="1" height="13.3" fill="#d45f6e"/><rect x="619.26" y="158.7" width="3.4" height="4.0" fill="#dc3a4d"/></g>
<g opacity="1"><rect x="624" y="144.0" width="1" height="20.7" fill="#4f9f95"/><rect x="622.72" y="154.3" width="3.4" height="8.4" fill="#16957f"/></g>
<g opacity="1"><rect x="627" y="126.0" width="1" height="29.0" fill="#4f9f95"/><rect x="626.18" y="135.2" width="3.4" height="19.1" fill="#16957f"/></g>
<g opacity="1"><rect x="631" y="123.5" width="1" height="25.2" fill="#4f9f95"/><rect x="629.63" y="126.8" width="3.4" height="8.4" fill="#16957f"/></g>
<g opacity="1"><rect x="634" y="122.0" width="1" height="11.5" fill="#d45f6e"/><rect x="633.09" y="126.8" width="3.4" height="1.0" fill="#dc3a4d"/></g>
<g opacity="1"><rect x="638" y="125.5" width="1" height="13.8" fill="#d45f6e"/><rect x="636.55" y="127.5" width="3.4" height="10.5" fill="#dc3a4d"/></g>
<g opacity="1"><rect x="641" y="135.3" width="1" height="22.7" fill="#d45f6e"/><rect x="640.00" y="137.5" width="3.4" height="10.5" fill="#dc3a4d"/></g>
<g opacity="1"><rect x="645" y="131.3" width="1" height="20.0" fill="#4f9f95"/><rect x="643.46" y="136.7" width="3.4" height="11.3" fill="#16957f"/></g>
<g opacity="1"><rect x="648" y="130.0" width="1" height="15.3" fill="#d45f6e"/><rect x="646.92" y="136.7" width="3.4" height="7.9" fill="#dc3a4d"/></g>
<g opacity="1"><rect x="652" y="140.0" width="1" height="22.7" fill="#d45f6e"/><rect x="650.38" y="144.5" width="3.4" height="12.2" fill="#dc3a4d"/></g>
<g opacity="1"><rect x="655" y="144.7" width="1" height="13.3" fill="#4f9f95"/><rect x="653.83" y="148.7" width="3.4" height="8.6" fill="#16957f"/></g>
<g opacity="1"><rect x="658" y="137.3" width="1" height="13.4" fill="#d45f6e"/><rect x="657.29" y="148.7" width="3.4" height="1.0" fill="#dc3a4d"/></g>
<g opacity="1"><rect x="662" y="148.0" width="1" height="30.0" fill="#d45f6e"/><rect x="660.75" y="148.7" width="3.4" height="28.6" fill="#dc3a4d"/></g>
<g opacity="1"><rect x="665" y="167.6" width="1" height="16.4" fill="#d45f6e"/><rect x="664.20" y="177.3" width="3.4" height="1.4" fill="#dc3a4d"/></g>
<g opacity="1"><rect x="669" y="156.0" width="1" height="26.0" fill="#4f9f95"/><rect x="667.66" y="157.3" width="3.4" height="21.4" fill="#16957f"/></g>
<g opacity="1"><rect x="672" y="146.7" width="1" height="18.3" fill="#4f9f95"/><rect x="671.12" y="152.3" width="3.4" height="12.0" fill="#16957f"/></g>
<g opacity="1"><rect x="676" y="133.3" width="1" height="22.0" fill="#4f9f95"/><rect x="674.57" y="140.7" width="3.4" height="11.8" fill="#16957f"/></g>
<g opacity="1"><rect x="679" y="134.7" width="1" height="14.0" fill="#d45f6e"/><rect x="678.03" y="140.7" width="3.4" height="3.3" fill="#dc3a4d"/></g>
<g opacity="1"><rect x="683" y="130.7" width="1" height="28.0" fill="#d45f6e"/><rect x="681.49" y="144.0" width="3.4" height="7.3" fill="#dc3a4d"/></g>
<g opacity="1"><rect x="686" y="130.7" width="1" height="21.3" fill="#4f9f95"/><rect x="684.95" y="134.7" width="3.4" height="16.8" fill="#16957f"/></g>
<g opacity="1"><rect x="690" y="131.3" width="1" height="14.7" fill="#4f9f95"/><rect x="688.40" y="134.0" width="3.4" height="1.3" fill="#16957f"/></g>
<g opacity="1"><rect x="693" y="129.3" width="1" height="16.0" fill="#d45f6e"/><rect x="691.86" y="134.0" width="3.4" height="4.7" fill="#dc3a4d"/></g>
<g opacity="1"><rect x="697" y="102.7" width="1" height="39.3" fill="#4f9f95"/><rect x="695.32" y="106.7" width="3.4" height="31.3" fill="#16957f"/></g>
<g opacity="1"><rect x="700" y="74.7" width="1" height="33.3" fill="#4f9f95"/><rect x="698.77" y="75.3" width="3.4" height="31.4" fill="#16957f"/></g>
<g opacity="1"><rect x="703" y="70.0" width="1" height="14.7" fill="#d45f6e"/><rect x="702.23" y="76.0" width="3.4" height="8.0" fill="#dc3a4d"/></g>
<g opacity="1"><rect x="707" y="84.0" width="1" height="18.0" fill="#d45f6e"/><rect x="705.69" y="85.3" width="3.4" height="12.7" fill="#dc3a4d"/></g>
<g opacity="1"><rect x="710" y="91.3" width="1" height="26.7" fill="#d45f6e"/><rect x="709.14" y="97.3" width="3.4" height="17.4" fill="#dc3a4d"/></g>
<g opacity="1"><rect x="714" y="100.7" width="1" height="28.6" fill="#d45f6e"/><rect x="712.60" y="114.0" width="3.4" height="3.3" fill="#dc3a4d"/></g>
<g opacity="1"><rect x="717" y="102.7" width="1" height="30.1" fill="#d45f6e"/><rect x="716.06" y="117.2" width="3.4" height="9.6" fill="#dc3a4d"/></g>
<g opacity="1"><rect x="721" y="124.2" width="1" height="25.3" fill="#d45f6e"/><rect x="719.52" y="126.2" width="3.4" height="22.6" fill="#dc3a4d"/></g>
<g opacity="1"><rect x="724" y="133.7" width="1" height="17.1" fill="#4f9f95"/><rect x="722.97" y="136.2" width="3.4" height="12.8" fill="#16957f"/></g>
<g opacity="1"><rect x="728" y="127.2" width="1" height="13.0" fill="#4f9f95"/><rect x="726.43" y="130.2" width="3.4" height="6.0" fill="#16957f"/></g>
<g opacity="1"><rect x="731" y="126.3" width="1" height="16.0" fill="#d45f6e"/><rect x="729.89" y="130.3" width="3.4" height="3.4" fill="#dc3a4d"/></g>
<g opacity="1"><rect x="735" y="113.5" width="1" height="31.5" fill="#d45f6e"/><rect x="733.34" y="133.7" width="3.4" height="9.3" fill="#dc3a4d"/></g>
<g opacity="1"><rect x="738" y="139.7" width="1" height="22.5" fill="#d45f6e"/><rect x="736.80" y="143.0" width="3.4" height="8.5" fill="#dc3a4d"/></g>
<g opacity="1"><rect x="741" y="129.7" width="1" height="22.6" fill="#4f9f95"/><rect x="740.26" y="135.0" width="3.4" height="16.7" fill="#16957f"/></g>
<g opacity="1"><rect x="745" y="131.7" width="1" height="26.8" fill="#d45f6e"/><rect x="743.71" y="135.0" width="3.4" height="18.8" fill="#dc3a4d"/></g>
<g opacity="1"><rect x="748" y="150.3" width="1" height="29.0" fill="#d45f6e"/><rect x="747.17" y="153.8" width="3.4" height="21.5" fill="#dc3a4d"/></g>
<g opacity="1"><rect x="752" y="170.0" width="1" height="11.3" fill="#d45f6e"/><rect x="750.63" y="175.3" width="3.4" height="1.0" fill="#dc3a4d"/></g>
<g opacity="1"><rect x="755" y="158.0" width="1" height="20.0" fill="#4f9f95"/><rect x="754.09" y="170.0" width="3.4" height="6.7" fill="#16957f"/></g>
<g opacity="1"><rect x="759" y="163.5" width="1" height="9.8" fill="#4f9f95"/><rect x="757.54" y="167.3" width="3.4" height="2.7" fill="#16957f"/></g>
<g opacity="1"><rect x="762" y="166.5" width="1" height="22.8" fill="#d45f6e"/><rect x="761.00" y="167.3" width="3.4" height="12.7" fill="#dc3a4d"/></g>
<g opacity="1"><rect x="766" y="170.7" width="1" height="15.3" fill="#d45f6e"/><rect x="764.46" y="180.0" width="3.4" height="4.7" fill="#dc3a4d"/></g>
<g opacity="1"><rect x="769" y="162.8" width="1" height="32.2" fill="#d45f6e"/><rect x="767.91" y="184.0" width="3.4" height="10.5" fill="#dc3a4d"/></g>
<g opacity="1"><rect x="773" y="193.5" width="1" height="13.8" fill="#d45f6e"/><rect x="771.37" y="194.0" width="3.4" height="12.7" fill="#dc3a4d"/></g>
<g opacity="1"><rect x="776" y="204.0" width="1" height="14.0" fill="#d45f6e"/><rect x="774.83" y="206.0" width="3.4" height="3.3" fill="#dc3a4d"/></g>
<g opacity="1"><rect x="779" y="201.3" width="1" height="16.0" fill="#d45f6e"/><rect x="778.28" y="209.3" width="3.4" height="7.4" fill="#dc3a4d"/></g>
<g opacity="1"><rect x="783" y="203.3" width="1" height="20.0" fill="#d45f6e"/><rect x="781.74" y="216.7" width="3.4" height="4.0" fill="#dc3a4d"/></g>
<g opacity="1"><rect x="786" y="212.7" width="1" height="18.6" fill="#d45f6e"/><rect x="785.20" y="220.7" width="3.4" height="5.0" fill="#dc3a4d"/></g>
<g opacity="1"><rect x="790" y="217.3" width="1" height="12.0" fill="#d45f6e"/><rect x="788.66" y="225.3" width="3.4" height="1.4" fill="#dc3a4d"/></g>
<g opacity="1"><rect x="793" y="221.3" width="1" height="12.0" fill="#d45f6e"/><rect x="792.11" y="222.7" width="3.4" height="1.3" fill="#dc3a4d"/></g>
<g opacity="1"><rect x="797" y="210.0" width="1" height="16.0" fill="#4f9f95"/><rect x="795.57" y="218.0" width="3.4" height="6.0" fill="#16957f"/></g>
<g opacity="1"><rect x="800" y="205.3" width="1" height="18.0" fill="#4f9f95"/><rect x="799.03" y="207.3" width="3.4" height="10.7" fill="#16957f"/></g>
<g opacity="1"><rect x="804" y="207.0" width="1" height="20.3" fill="#d45f6e"/><rect x="802.48" y="207.3" width="3.4" height="18.0" fill="#dc3a4d"/></g>
<g opacity="1"><rect x="807" y="218.7" width="1" height="18.0" fill="#d45f6e"/><rect x="805.94" y="225.3" width="3.4" height="6.7" fill="#dc3a4d"/></g>
<g opacity="1"><rect x="811" y="224.0" width="1" height="10.7" fill="#4f9f95"/><rect x="809.40" y="230.0" width="3.4" height="2.7" fill="#16957f"/></g>
<g opacity="1"><rect x="814" y="208.0" width="1" height="28.7" fill="#4f9f95"/><rect x="812.85" y="210.0" width="3.4" height="20.0" fill="#16957f"/></g>
<g opacity="1"><rect x="818" y="198.7" width="1" height="20.6" fill="#d45f6e"/><rect x="816.31" y="210.0" width="3.4" height="6.0" fill="#dc3a4d"/></g>
<g opacity="1"><rect x="821" y="208.2" width="1" height="14.2" fill="#4f9f95"/><rect x="819.77" y="211.5" width="3.4" height="4.1" fill="#16957f"/></g>
<rect x="824.5" y="204.4" width="1" height="14.2" fill="#b5dcd7"/>
<rect x="823.4" y="211.4" width="3" height="4.2" fill="#8fd0c4"/>
<rect x="823.4" y="210.9" width="3.6" height="1" fill="#2f8f80"/>
<path d="M0,415.0 L0.0,439.0 L6.7,437.3 L16.7,438.2 L30.0,436.0 L40.0,430.7 L50.0,425.7 L58.3,419.8 L66.7,415.7 L71.7,414.0 L78.3,413.2 L86.7,408.2 L91.7,407.0 L100.0,401.5 L108.3,396.5 L116.7,394.8 L121.7,395.3 L130.0,392.3 L136.7,392.0 L141.7,393.5 L145.0,392.7 L150.0,390.3 L156.7,391.5 L163.3,391.8 L170.0,392.0 L177.5,391.0 L183.3,394.0 L190.0,396.5 L196.7,400.7 L203.3,404.3 L211.7,407.0 L220.0,407.7 L226.7,409.8 L233.3,411.8 L240.0,410.3 L248.3,409.3 L256.7,408.5 L265.0,407.0 L270.0,407.0 L278.3,404.8 L285.0,404.3 L288.3,404.3 L295.0,405.7 L301.7,405.7 L308.3,410.7 L315.0,414.0 L321.7,416.0 L330.0,417.0 L338.3,419.8 L346.7,422.0 L355.0,423.7 L363.3,424.8 L370.0,423.7 L376.7,423.0 L383.3,424.8 L390.8,426.0 L396.7,424.0 L405.0,421.5 L413.3,418.7 L421.7,417.3 L431.7,416.8 L440.0,415.3 L446.7,413.7 L454.2,411.2 L461.7,412.3 L466.7,413.7 L471.7,415.0 L475.8,413.7 L481.7,415.0 L490.0,416.2 L496.7,418.2 L503.3,419.3 L510.0,419.8 L516.7,419.0 L523.3,417.0 L530.0,414.0 L536.7,410.7 L542.5,408.7 L546.7,409.3 L553.3,411.2 L561.7,412.7 L565.0,412.3 L570.0,411.8 L573.3,412.7 L576.7,415.7 L581.7,419.3 L588.3,422.3 L593.3,424.0 L600.0,424.7 L606.7,424.0 L611.7,424.3 L618.3,422.3 L625.0,419.8 L631.7,416.0 L636.7,414.0 L641.7,413.3 L646.7,412.8 L653.3,413.7 L660.0,414.0 L665.0,416.5 L671.7,416.0 L678.3,414.8 L685.0,414.0 L693.3,412.3 L695.0,412.0 L700.0,407.7 L706.7,405.2 L713.3,406.2 L720.0,409.0 L728.3,410.7 L735.0,412.7 L741.7,414.5 L748.3,417.3 L756.7,419.3 L765.0,421.5 L773.3,424.0 L781.7,426.5 L790.0,428.2 L796.7,428.3 L803.3,427.3 L810.0,427.3 L816.7,425.7 L824.7,423.3 L824.7,415.0 Z" fill="#2962ff" stroke="#2962ff" stroke-width="0.4" stroke-linejoin="round"/>
<rect x="0" y="414.5" width="824.7" height="1.0" fill="#2962ff"/>
<text x="4.8" y="10.4" font-size="10.5" fill="#15181f" font-weight="normal" text-anchor="start" stroke="#15181f" stroke-width="0.25" textLength="190" lengthAdjust="spacingAndGlyphs">New Zealand Dollar / U.S. Dollar, 1D, FXCM</text>
<text x="202.8" y="10.4" font-size="10.5" fill="#15181f" font-weight="normal" text-anchor="start" textLength="6.6" lengthAdjust="spacingAndGlyphs">O</text>
<text x="210.2" y="10.4" font-size="10.5" fill="#1f9c8b" font-weight="normal" text-anchor="start" textLength="32.2" lengthAdjust="spacingAndGlyphs">0.59660</text>
<text x="249.0" y="10.4" font-size="10.5" fill="#15181f" font-weight="normal" text-anchor="start" textLength="5.6" lengthAdjust="spacingAndGlyphs">H</text>
<text x="255.0" y="10.4" font-size="10.5" fill="#1f9c8b" font-weight="normal" text-anchor="start" textLength="33" lengthAdjust="spacingAndGlyphs">0.59882</text>
<text x="295.6" y="10.4" font-size="10.5" fill="#15181f" font-weight="normal" text-anchor="start" textLength="4.2" lengthAdjust="spacingAndGlyphs">L</text>
<text x="300.0" y="10.4" font-size="10.5" fill="#1f9c8b" font-weight="normal" text-anchor="start" textLength="32.2" lengthAdjust="spacingAndGlyphs">0.59436</text>
<text x="339.8" y="10.4" font-size="10.5" fill="#15181f" font-weight="normal" text-anchor="start" textLength="5.6" lengthAdjust="spacingAndGlyphs">C</text>
<text x="345.4" y="10.4" font-size="10.5" fill="#1f9c8b" font-weight="normal" text-anchor="start" textLength="32" lengthAdjust="spacingAndGlyphs">0.59663</text>
<text x="384.5" y="10.4" font-size="10.5" fill="#1f9c8b" font-weight="normal" text-anchor="start" textLength="36.4" lengthAdjust="spacingAndGlyphs">+0.00003</text>
<text x="425.5" y="10.4" font-size="10.5" fill="#1f9c8b" font-weight="normal" text-anchor="start" textLength="33.6" lengthAdjust="spacingAndGlyphs">(+0.01%)</text>
<text x="4.8" y="24.6" font-size="10.5" fill="#15181f" font-weight="normal" text-anchor="start" textLength="18" lengthAdjust="spacingAndGlyphs">EMA</text>
<text x="30" y="24.6" font-size="10.5" fill="#3d6cc4" font-weight="normal" text-anchor="start" textLength="33.2" lengthAdjust="spacingAndGlyphs">0.59538</text>
<text x="4.8" y="38.2" font-size="10.5" fill="#15181f" font-weight="normal" text-anchor="start" textLength="13.2" lengthAdjust="spacingAndGlyphs">MA</text>
<text x="24.8" y="38.2" font-size="10.5" fill="#c4434f" font-weight="normal" text-anchor="start" textLength="32.5" lengthAdjust="spacingAndGlyphs">0.59749</text>
<text x="4.7" y="400.5" font-size="10.5" fill="#15181f" font-weight="normal" text-anchor="start" textLength="25.3" lengthAdjust="spacingAndGlyphs">MACD</text>
<text x="37" y="400.5" font-size="10.5" fill="#3d6cc4" font-weight="normal" text-anchor="start" textLength="36.7" lengthAdjust="spacingAndGlyphs">−0.00455</text>
<text x="3" y="460.5" font-size="10" fill="#15181f" font-weight="normal" text-anchor="middle">ct</text>
<text x="71.3" y="460.5" font-size="10" fill="#15181f" font-weight="normal" text-anchor="middle">Nov</text>
<text x="146.3" y="460.5" font-size="10" fill="#15181f" font-weight="normal" text-anchor="middle">Dec</text>
<text x="223" y="460.5" font-size="10" fill="#15181f" font-weight="bold" text-anchor="middle">2023</text>
<text x="299.2" y="460.5" font-size="10" fill="#15181f" font-weight="normal" text-anchor="middle">Feb</text>
<text x="368" y="460.5" font-size="10" fill="#15181f" font-weight="normal" text-anchor="middle">Mar</text>
<text x="447.5" y="460.5" font-size="10" fill="#15181f" font-weight="normal" text-anchor="middle">Apr</text>
<text x="517.5" y="460.5" font-size="10" fill="#15181f" font-weight="normal" text-anchor="middle">May</text>
<text x="596.3" y="460.5" font-size="10" fill="#15181f" font-weight="normal" text-anchor="middle">Jun</text>
<text x="673" y="460.5" font-size="10" fill="#15181f" font-weight="normal" text-anchor="middle">Jul</text>
<text x="745.3" y="460.5" font-size="10" fill="#15181f" font-weight="normal" text-anchor="middle">Aug</text>
<text x="825" y="460.5" font-size="10" fill="#15181f" font-weight="normal" text-anchor="middle">Sep</text>
<text x="864.2" y="77.10000000000001" font-size="11" fill="#15181f" font-weight="normal" text-anchor="start" stroke="#15181f" stroke-width="0.18" textLength="33" lengthAdjust="spacingAndGlyphs">0.64000</text>
<text x="864.2" y="45.199999999999996" font-size="11" fill="#15181f" font-weight="normal" text-anchor="start" stroke="#15181f" stroke-width="0.18" textLength="33" lengthAdjust="spacingAndGlyphs">0.65000</text>
<text x="864.2" y="108.9" font-size="11" fill="#15181f" font-weight="normal" text-anchor="start" stroke="#15181f" stroke-width="0.18" textLength="33" lengthAdjust="spacingAndGlyphs">0.63000</text>
<text x="864.2" y="140.9" font-size="11" fill="#15181f" font-weight="normal" text-anchor="start" stroke="#15181f" stroke-width="0.18" textLength="33" lengthAdjust="spacingAndGlyphs">0.62000</text>
<text x="864.2" y="172.9" font-size="11" fill="#15181f" font-weight="normal" text-anchor="start" stroke="#15181f" stroke-width="0.18" textLength="33" lengthAdjust="spacingAndGlyphs">0.61000</text>
<text x="864.2" y="204.8" font-size="11" fill="#15181f" font-weight="normal" text-anchor="start" stroke="#15181f" stroke-width="0.18" textLength="33" lengthAdjust="spacingAndGlyphs">0.60000</text>
<text x="864.2" y="236.70000000000002" font-size="11" fill="#15181f" font-weight="normal" text-anchor="start" stroke="#15181f" stroke-width="0.18" textLength="33" lengthAdjust="spacingAndGlyphs">0.59000</text>
<text x="864.2" y="268.09999999999997" font-size="11" fill="#15181f" font-weight="normal" text-anchor="start" stroke="#15181f" stroke-width="0.18" textLength="33" lengthAdjust="spacingAndGlyphs">0.58000</text>
<text x="864.2" y="300.0" font-size="11" fill="#15181f" font-weight="normal" text-anchor="start" stroke="#15181f" stroke-width="0.18" textLength="33" lengthAdjust="spacingAndGlyphs">0.57000</text>
<text x="864.2" y="331.9" font-size="11" fill="#15181f" font-weight="normal" text-anchor="start" stroke="#15181f" stroke-width="0.18" textLength="33" lengthAdjust="spacingAndGlyphs">0.56000</text>
<text x="864.2" y="363.7" font-size="11" fill="#15181f" font-weight="normal" text-anchor="start" stroke="#15181f" stroke-width="0.18" textLength="33" lengthAdjust="spacingAndGlyphs">0.55000</text>
<text x="864.2" y="418.5" font-size="11" fill="#15181f" font-weight="normal" text-anchor="start" stroke="#15181f" stroke-width="0.18" textLength="33" lengthAdjust="spacingAndGlyphs">0.00000</text>
<rect x="857.4" y="31" width="43" height="13" fill="#1cb6d0"/>
<text x="864.2" y="41.4" font-size="11" fill="#10202a" font-weight="normal" text-anchor="start" stroke="#10202a" stroke-width="0.18" textLength="32.8" lengthAdjust="spacingAndGlyphs">0.65142</text>
<rect x="857.4" y="70.8" width="43" height="13.0" fill="#1cb6d0"/>
<text x="864.2" y="81.2" font-size="11" fill="#10202a" font-weight="normal" text-anchor="start" stroke="#10202a" stroke-width="0.18" textLength="32.8" lengthAdjust="spacingAndGlyphs">0.63894</text>
<rect x="857.4" y="190" width="43" height="40" fill="#a5e1e8"/>
<rect x="857.4" y="177.3" width="43" height="13.5" fill="#1cb6d0"/>
<text x="864.2" y="187.95000000000002" font-size="11" fill="#10202a" font-weight="normal" text-anchor="start" stroke="#10202a" stroke-width="0.18" textLength="32.8" lengthAdjust="spacingAndGlyphs">0.59879</text>
<rect x="857.4" y="190.8" width="43" height="13.0" fill="#ee3346"/>
<text x="864.2" y="201.20000000000002" font-size="11" fill="#ffffff" font-weight="normal" text-anchor="start" stroke="#ffffff" stroke-width="0.18" textLength="32.8" lengthAdjust="spacingAndGlyphs">0.59749</text>
<rect x="857.4" y="204.5" width="43" height="13.5" fill="#0f957d"/>
<text x="864.2" y="215.15" font-size="11" fill="#ffffff" font-weight="normal" text-anchor="start" stroke="#ffffff" stroke-width="0.18" textLength="32.8" lengthAdjust="spacingAndGlyphs">0.59663</text>
<rect x="857.4" y="219.2" width="43" height="13.300000000000011" fill="#2962ff"/>
<text x="864.2" y="229.75" font-size="11" fill="#ffffff" font-weight="normal" text-anchor="start" stroke="#ffffff" stroke-width="0.18" textLength="32.8" lengthAdjust="spacingAndGlyphs">0.59538</text>
<rect x="857.4" y="348.9" width="43" height="12.800000000000011" fill="#1cb6d0"/>
<text x="864.2" y="359.19999999999993" font-size="11" fill="#10202a" font-weight="normal" text-anchor="start" stroke="#10202a" stroke-width="0.18" textLength="32.8" lengthAdjust="spacingAndGlyphs">0.55144</text>
<rect x="857.4" y="417.1" width="43" height="12.599999999999966" fill="#2962ff"/>
<text x="864.2" y="427.29999999999995" font-size="11" fill="#ffffff" font-weight="normal" text-anchor="start" stroke="#ffffff" stroke-width="0.18" textLength="37.5" lengthAdjust="spacingAndGlyphs">−0.00455</text>
<rect x="860.7" y="-6" width="50" height="23.3" rx="3.5" fill="#ffffff" stroke="#e0e3eb" stroke-width="1"/>
<text x="868" y="10.9" font-size="10.6" fill="#15181f" font-weight="normal" text-anchor="start" stroke="#15181f" stroke-width="0.15" textLength="17.3" lengthAdjust="spacingAndGlyphs">USD</text>
</svg></body></html>
